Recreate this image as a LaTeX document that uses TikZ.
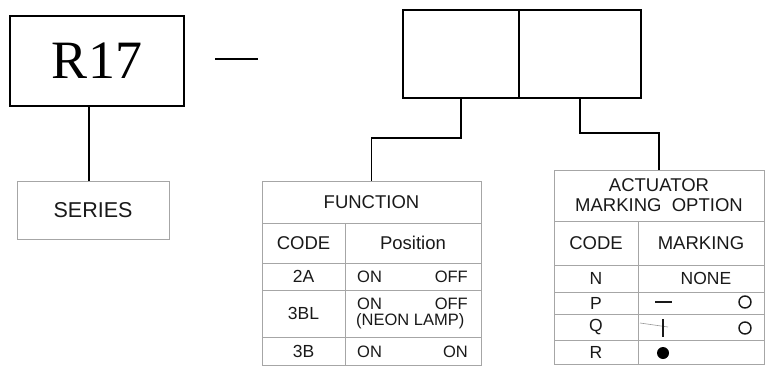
\documentclass[tikz,border=0pt]{standalone}
\usepackage{fontspec}
\setmainfont{Liberation Sans}
\newfontfamily\serifR{Liberation Serif}
\begin{document}
\begin{tikzpicture}[x=1pt,y=-1pt,
  bigbox/.style={draw=black, line width=1.6pt, rectangle, inner sep=0pt},
  conn/.style={draw=black, line width=1.6pt},
  tcell/.style={draw=black!35, line width=0.8pt, rectangle, inner sep=0pt, text=black!90},
  hdr/.style={font=\fontsize{18.5}{21}\selectfont},
  rowt/.style={font=\fontsize{17.5}{19}\selectfont},
  txt/.style={inner sep=0pt, text=black!90, font=\fontsize{16.5}{17}\selectfont},
  markline/.style={line width=1.3pt, draw=black!90},
  ring/.style={circle, draw=black!90, line width=1.4pt, minimum size=12pt, inner sep=0pt}
]
\useasboundingbox (0,0) rectangle (766,367);
\fill[white] (0,0) rectangle (766,367);

% R17 and series
\node[bigbox, minimum width=174pt, minimum height=90pt] (r17) at (97,61) {\serifR\fontsize{54}{60}\selectfont R17};
\node[tcell, minimum width=152pt, minimum height=58pt, font=\fontsize{21.5}{24}\selectfont] (series) at (93,210) {SERIES};
\draw[conn] ([xshift=-8pt]r17.south) -- ([xshift=-8pt]r17.south |- series.north);

% dash
\coordinate (d1) at (215,59);
\coordinate (d2) at (258,59);
\draw[conn] (d1) -- (d2);

% code boxes
\node[bigbox, minimum width=116pt, minimum height=88pt] (box1) at (461,54) {};
\node[bigbox, minimum width=122pt, minimum height=88pt] (box2) at (580,54) {};

% FUNCTION table
\node[tcell, hdr, minimum width=219pt, minimum height=42pt] (fhead) at (371.5,202) {FUNCTION};
\node[tcell, hdr, minimum width=83pt, minimum height=40pt] (fcodeh) at (303.5,243) {CODE};
\node[tcell, hdr, minimum width=136pt, minimum height=40pt] (fposh) at (413,243) {Position};
\node[tcell, rowt, minimum width=83pt, minimum height=27pt] (f2a) at (303.5,276.5) {2A};
\node[tcell, minimum width=136pt, minimum height=27pt] (f2ap) at (413,276.5) {};
\node[tcell, rowt, minimum width=83pt, minimum height=47pt] (f3bl) at (303.5,313.5) {3BL};
\node[tcell, minimum width=136pt, minimum height=47pt] (f3blp) at (413,313.5) {};
\node[tcell, rowt, minimum width=83pt, minimum height=28pt] (f3b) at (303.5,351) {3B};
\node[tcell, minimum width=136pt, minimum height=28pt] (f3bp) at (413,351) {};
\node[txt, anchor=west] (on1) at (357,276.5) {ON};
\node[txt, anchor=east] (off1) at (468,276.5) {OFF};
\node[txt, anchor=west] (on2) at (357,304) {ON};
\node[txt, anchor=east] (off2) at (468,304) {OFF};
\node[txt, anchor=west] (neon) at (356,321) {(NEON LAMP)};
\node[txt, anchor=west] (on3) at (357,352) {ON};
\node[txt, anchor=east] (on4) at (468,352) {ON};

% ACTUATOR table
\node[tcell, hdr, minimum width=210pt, minimum height=51pt, align=center] (ahead) at (659,195.5) {ACTUATOR\\[-1pt]MARKING\ \ OPTION};
\node[tcell, hdr, minimum width=84pt, minimum height=44pt] (acodeh) at (596,243) {CODE};
\node[tcell, hdr, minimum width=126pt, minimum height=44pt] (amarkh) at (701,243) {MARKING};
\node[tcell, rowt, minimum width=84pt, minimum height=27pt] (an) at (596,278.5) {N};
\node[tcell, minimum width=126pt, minimum height=27pt] (anm) at (701,278.5) {};
\node[txt, font=\fontsize{17.5}{19}\selectfont] (none) at (706,278.5) {NONE};
\node[tcell, rowt, minimum width=84pt, minimum height=22pt] (ap) at (596,303) {P};
\node[tcell, minimum width=126pt, minimum height=22pt] (apm) at (701,303) {};
\node[tcell, rowt, minimum width=84pt, minimum height=26pt] (aq) at (596,327) {Q};
\node[tcell, minimum width=126pt, minimum height=26pt] (aqm) at (701,327) {};
\node[tcell, rowt, minimum width=84pt, minimum height=24pt] (ar) at (596,352) {R};
\node[tcell, minimum width=126pt, minimum height=24pt] (arm) at (701,352) {};

% markings
\coordinate (pd1) at (655,302);
\coordinate (pd2) at (672,302);
\draw[markline, line width=1.8pt] (pd1) -- (pd2);
\node[ring] (pc) at (745,302) {};
\coordinate (qs1) at (640,323);
\coordinate (qs2) at (668,327);
\draw[black!40, line width=0.6pt] (qs1) -- (qs2);
\coordinate (qt1) at (663,319);
\coordinate (qt2) at (663,337);
\draw[markline, line width=1.6pt] (qt1) -- (qt2);
\node[ring] (qc) at (745,328) {};
\node[circle, fill=black, minimum size=12pt, inner sep=0pt] (rd) at (663,353) {};

% connectors
\draw[conn] (box1.south) -- ++(0,39) -| (fhead.north);
\draw[conn] (box2.south) -- ++(0,34) -| (ahead.north);
\end{tikzpicture}
\end{document}
